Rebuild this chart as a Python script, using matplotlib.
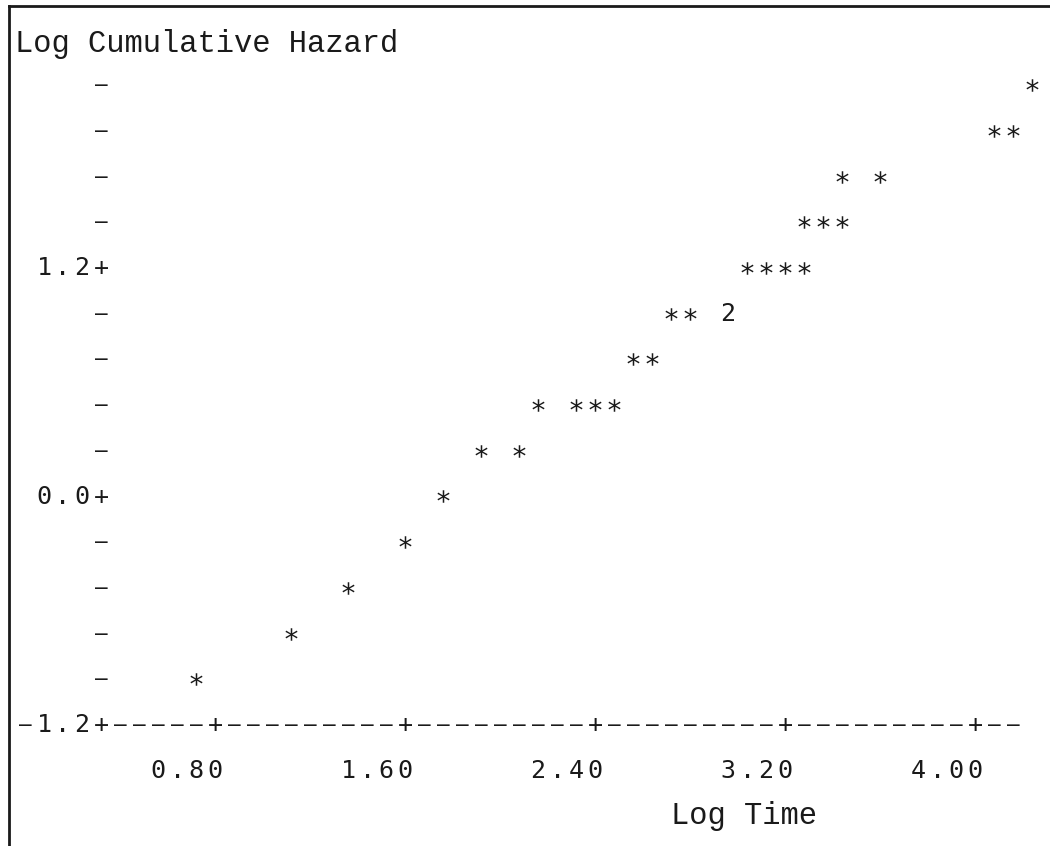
import matplotlib
matplotlib.use("Agg")
import matplotlib.pyplot as plt
from matplotlib.lines import Line2D

# Line-printer style plot (SAS PROC PLOT look)
log_time = [0.72, 1.12, 1.36, 1.60, 1.76, 1.92, 2.08, 2.16, 2.32, 2.40,
            2.48, 2.56, 2.64, 2.72, 2.80, 2.96, 3.04, 3.12, 3.20, 3.28,
            3.28, 3.36, 3.44, 3.44, 3.60, 4.08, 4.16, 4.24]
log_cum_hazard = [-0.96, -0.72, -0.48, -0.24, 0.00, 0.24, 0.24, 0.48, 0.48, 0.48,
                  0.48, 0.72, 0.72, 0.96, 0.96, 0.96, 1.20, 1.20, 1.20, 1.20,
                  1.44, 1.44, 1.44, 1.68, 1.68, 1.92, 1.92, 2.16]
n_obs = [1, 1, 1, 1, 1, 1, 1, 1, 1, 1,
         1, 1, 1, 1, 1, 2, 1, 1, 1, 1,
         1, 1, 1, 1, 1, 1, 1, 1]

x_ticks = [0.80, 1.60, 2.40, 3.20, 4.00]
x_tick_labels = ["0.80", "1.60", "2.40", "3.20", "4.00"]
y_ticks = [-1.2, 0.0, 1.2]
y_tick_labels = ["-1.2", "0.0", "1.2"]

x_axis_start, x_axis_end = 0.32, 4.16
y_axis_top = 2.16
col = 0.08   # one character column in x units
row = 0.24   # one printed line in y units

# pixel -> data mapping (char width 19 px, line height 45.7 px)
W, H = 1050, 846
px_per_col, px_per_row = 19.0, 45.7
def xv(px):
    return 0.80 + (px - 215) * col / px_per_col
def yv(py):
    return -1.2 + (725 - py) * row / px_per_row

fig = plt.figure(figsize=(W / 100, H / 100), dpi=100)
ax = fig.add_axes([0, 0, 1, 1])
ax.set_xlim(xv(0), xv(W))
ax.set_ylim(yv(H), yv(0))
ax.axis("off")

mono = "DejaVu Sans Mono"
label_font = "Liberation Mono"
ink = "#1a1a1a"
dash = "\u2013"


def put_chars(x0, y, s, size=18):
    # place each character on the fixed printer grid
    for i, ch in enumerate(s):
        if ch == " ":
            continue
        if ch == "-":
            ax.text(x0 + i * col, y, dash, ha="center", va="center",
                    family=mono, fontsize=15, color=ink)
        else:
            ax.text(x0 + i * col, y, ch, ha="center", va="center",
                    family=mono, fontsize=size, color=ink)


# y axis: ticks every row, '+' at labelled values
n_rows = int(round((y_axis_top - y_ticks[0]) / row))
for k in range(1, n_rows + 1):
    y = y_ticks[0] + k * row
    labelled = [abs(y - t) < 1e-6 for t in y_ticks]
    if any(labelled):
        lab = y_tick_labels[labelled.index(True)]
        put_chars(x_axis_start - len(lab) * col, y, lab + "+")
    else:
        put_chars(x_axis_start, y, "-")

# x axis line of dashes with '+' at ticks
put_chars(x_axis_start - 4 * col, y_ticks[0], y_tick_labels[0])
n_cols = int(round((x_axis_end - x_axis_start) / col))
for k in range(n_cols + 1):
    x = x_axis_start + k * col
    is_tick = abs(x - x_axis_start) < 1e-6 or any(abs(x - t) < 1e-6 for t in x_ticks)
    put_chars(x, y_ticks[0], "+" if is_tick else "-")

for t, lab in zip(x_ticks, x_tick_labels):
    put_chars(t - (len(lab) - 1) * col, y_ticks[0] - row, lab)

# axis titles
ax.text(0.0 - col / 2, y_axis_top + 0.9 * row, "Log Cumulative Hazard", ha="left", va="center",
        family=label_font, fontsize=22, color=ink)
ax.text(2.76 - col / 2, y_ticks[0] - 2 * row, "Log Time", ha="left", va="center",
        family=label_font, fontsize=22, color=ink)

# data points: '*' for one observation, count digit for overlaps
sx = [x for x, n in zip(log_time, n_obs) if n == 1]
sy = [y for y, n in zip(log_cum_hazard, n_obs) if n == 1]
ax.plot(sx, sy, linestyle="none", marker="$*$", markersize=9,
        color=ink, markeredgewidth=0)
for x, y, n in zip(log_time, log_cum_hazard, n_obs):
    if n > 1:
        ax.text(x, y, str(n), ha="center", va="center",
                family=mono, fontsize=18, color=ink)

# printout frame (left and top edges)
fig.add_artist(Line2D([9 / W, 9 / W], [0, 1 - 6 / H], color=ink, linewidth=2))
fig.add_artist(Line2D([9 / W, 1], [1 - 6 / H, 1 - 6 / H], color=ink, linewidth=2))

fig.savefig("out.png", dpi=100)
